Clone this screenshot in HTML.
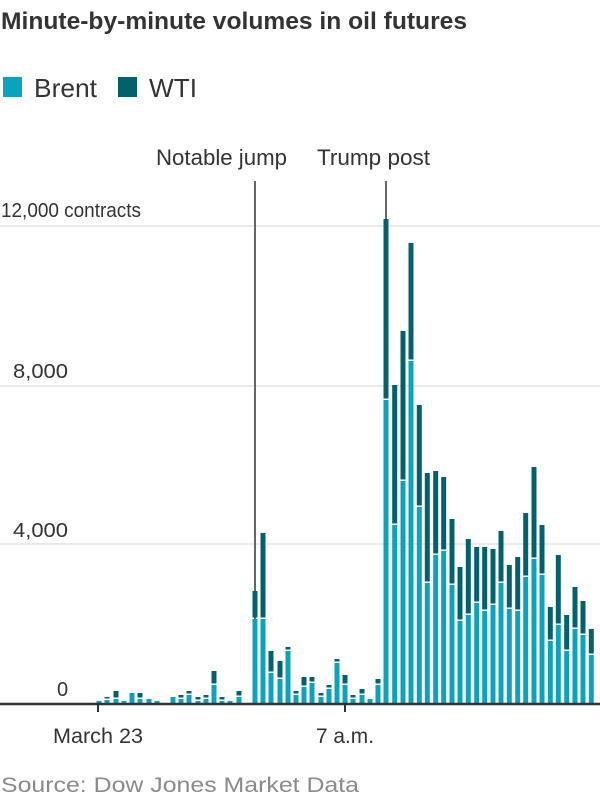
<!DOCTYPE html>
<html><head><style>body{margin:0;background:#fff}svg{display:block}</style></head><body>
<svg width="600" height="800" xmlns="http://www.w3.org/2000/svg" font-family="Liberation Sans, sans-serif">
<rect width="600" height="800" fill="#fff"/>
<text x="1" y="29" font-size="24" font-weight="bold" fill="#333" textLength="466" lengthAdjust="spacingAndGlyphs">Minute-by-minute volumes in oil futures</text>
<rect x="3" y="77" width="19" height="20" fill="#0aa3bd"/>
<text x="34" y="97" font-size="26" fill="#333" textLength="63" lengthAdjust="spacingAndGlyphs">Brent</text>
<rect x="118" y="77" width="19" height="20" fill="#03616e"/>
<text x="149" y="97" font-size="26" fill="#333" textLength="48" lengthAdjust="spacingAndGlyphs">WTI</text>
<text x="156" y="165" font-size="22" fill="#333" textLength="131" lengthAdjust="spacingAndGlyphs">Notable jump</text>
<text x="317" y="165" font-size="22" fill="#333" textLength="113" lengthAdjust="spacingAndGlyphs">Trump post</text>
<g stroke="#e2e2e2" stroke-width="1.5">
<line x1="0" y1="226" x2="600" y2="226"/><line x1="0" y1="386" x2="600" y2="386"/><line x1="0" y1="544" x2="600" y2="544"/>
</g>
<g font-size="20" fill="#333">
<text x="1" y="217" textLength="140" lengthAdjust="spacingAndGlyphs">12,000 contracts</text>
<text x="13" y="378" textLength="55" lengthAdjust="spacingAndGlyphs">8,000</text>
<text x="13" y="537" textLength="55" lengthAdjust="spacingAndGlyphs">4,000</text>
<text x="57" y="696">0</text>
</g>
<line x1="255" y1="181" x2="255" y2="620" stroke="#333" stroke-width="1.5"/>
<line x1="386" y1="181" x2="386" y2="220" stroke="#333" stroke-width="1.5"/>
<g id="bars"></g>
<line x1="0" y1="704" x2="600" y2="704" stroke="#333" stroke-width="2.5"/>
<line x1="98" y1="704" x2="98" y2="712" stroke="#333" stroke-width="2"/>
<line x1="345" y1="704" x2="345" y2="712" stroke="#333" stroke-width="2"/>
<text x="98" y="743" font-size="21" fill="#333" text-anchor="middle" textLength="90" lengthAdjust="spacingAndGlyphs">March 23</text>
<text x="345" y="743" font-size="21" fill="#333" text-anchor="middle" textLength="58" lengthAdjust="spacingAndGlyphs">7 a.m.</text>
<text x="1" y="792" font-size="21" fill="#8a8a8a" textLength="358" lengthAdjust="spacingAndGlyphs">Source: Dow Jones Market Data</text>
</svg>
<script>
var d=[[99,701,701],[107,700,697],[116,699,691],[124,701,701],[132,693,693],[140,699,693],[149,699,699],[157,701,701],[173,697,697],[181,699,695],[189,695,691],[198,701,697],[206,699,695],[214,685,671],[222,701,697],[230,701,701],[239,697,691],[255,619,591],[263,619,533],[271,673,651],[280,679,661],[288,651,647],[296,695,691],[304,687,677],[312,683,677],[321,697,693],[329,689,685],[337,663,659],[345,685,675],[353,699,695],[362,695,689],[370,699,699],[378,685,679],
[386,400,219],[394.7,525,385],[403,481,331],[411,361,243],[419.3,507,405],[427.3,583,473],[435.7,555,471],[443.7,551,477],[452,585,519],[460,621,567],[468.3,615,539],[476.7,603,547],[484.7,611,547],[493,605,549],[501,583,531],[509.3,609,565],[517.7,611,557],[525.7,577,513],[534,559,467],[542,575,525],[550.3,641,607],[558.3,625,555],[566.7,651,615],[575,629,587],[583,635,601],[591.3,655,629]];
var s='';d.forEach(function(b){var x=b[0]-2.5;s+='<rect x="'+x+'" y="'+b[1]+'" width="5" height="'+(703-b[1])+'" fill="#0aa3bd"/>';if(b[2]<b[1]-2)s+='<rect x="'+x+'" y="'+b[2]+'" width="5" height="'+(b[1]-1.5-b[2])+'" fill="#03616e"/>';});
document.getElementById('bars').innerHTML=s;
</script>
</body></html>
